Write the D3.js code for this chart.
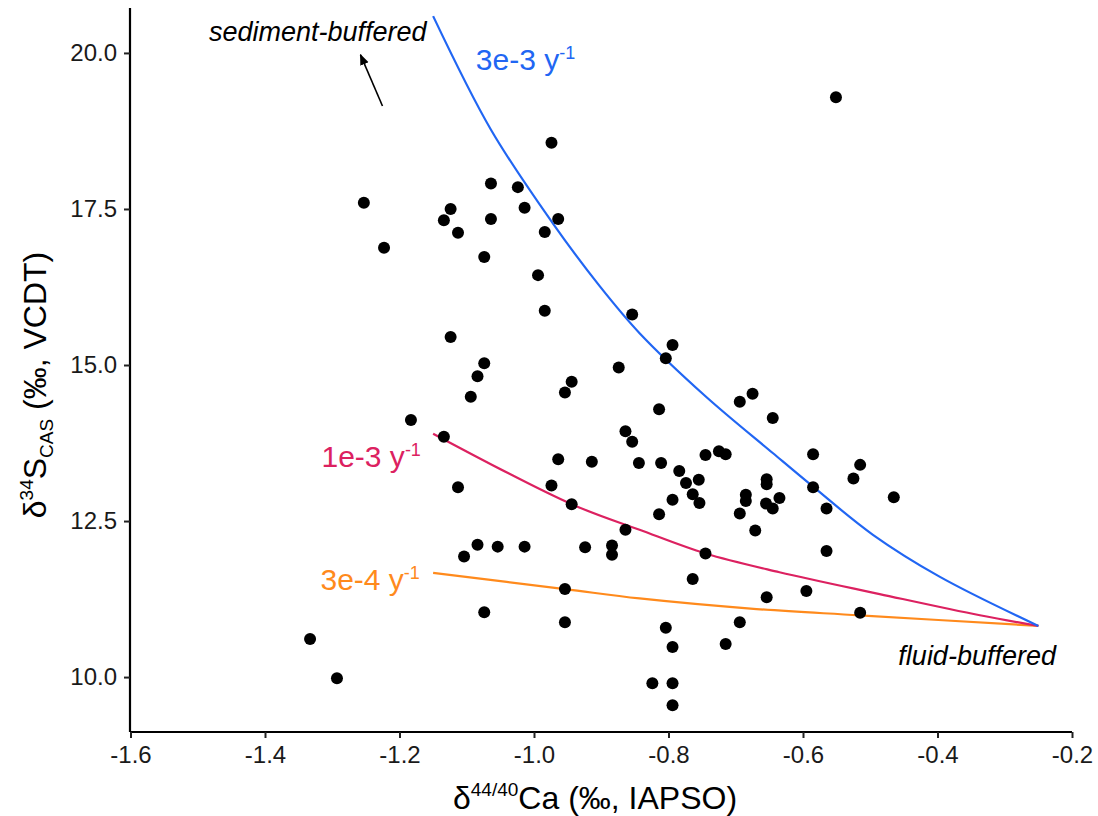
<!DOCTYPE html>
<html>
<head>
<meta charset="utf-8">
<script src="https://cdn.jsdelivr.net/npm/d3@7"></script>
<style>
  body { margin: 0; background: #fff; }
  svg { display: block; }
  text { font-family: "Liberation Sans", Arial, Helvetica, sans-serif; }
</style>
</head>
<body>
<svg id="chart" width="1098" height="816"></svg>
<script>
// Carbonate-associated sulfate δ34S against calcium δ44/40Ca, one entry per sample
const sampleCa = [
  -0.974, -1.064, -1.024, -1.253, -1.124, -1.014, -1.134, -1.064, -0.964, -1.113,
  -0.984, -1.223, -1.074, -0.994, -0.984, -1.124, -1.074, -1.084, -0.944, -0.954,
  -1.094, -1.183, -1.134, -0.964, -0.914, -1.113, -0.974, -0.944, -1.084, -1.054,
  -1.014, -0.924, -1.104, -0.954, -1.074, -0.954, -1.333, -1.293, -0.854, -0.794,
  -0.804, -0.874, -0.675, -0.694, -0.814, -0.645, -0.864, -0.854, -0.725, -0.715,
  -0.745, -0.585, -0.844, -0.811, -0.515, -0.784, -0.755, -0.774, -0.654, -0.654,
  -0.525, -0.585, -0.764, -0.685, -0.685, -0.754, -0.635, -0.655, -0.645, -0.794,
  -0.565, -0.814, -0.694, -0.864, -0.671, -0.884, -0.884, -0.745, -0.565, -0.764,
  -0.654, -0.595, -0.515, -0.804, -0.694, -0.794, -0.715, -0.824, -0.794, -0.794,
  -0.465, -0.551
];
const sampleS = [
  18.56, 17.91, 17.85, 17.60, 17.50, 17.52, 17.32, 17.34, 17.34, 17.12,
  17.13, 16.88, 16.73, 16.44, 15.87, 15.45, 15.03, 14.82, 14.73, 14.56,
  14.49, 14.12, 13.85, 13.49, 13.45, 13.04, 13.07, 12.77, 12.12, 12.09,
  12.09, 12.08, 11.93, 11.41, 11.04, 10.88, 10.61, 9.98, 15.81, 15.32,
  15.11, 14.96, 14.54, 14.41, 14.29, 14.15, 13.94, 13.77, 13.62, 13.57,
  13.56, 13.57, 13.43, 13.43, 13.40, 13.30, 13.16, 13.11, 13.17, 13.09,
  13.18, 13.04, 12.93, 12.92, 12.82, 12.79, 12.87, 12.78, 12.70, 12.84,
  12.70, 12.61, 12.62, 12.36, 12.35, 12.11, 11.96, 11.98, 12.02, 11.57,
  11.28, 11.38, 11.03, 10.79, 10.88, 10.48, 10.53, 9.90, 9.90, 9.55,
  12.88, 19.29
];

// Model trajectories from the sediment end towards the fluid end, one per rate
const fastCa = [-1.15, -1.064, -0.972, -0.902, -0.843, -0.745, -0.645, -0.585, -0.496, -0.397, -0.25];
const fastS  = [20.59, 18.77, 17.27, 16.26, 15.51, 14.50, 13.59, 13.05, 12.28, 11.61, 10.82];
const midCa  = [-1.15, -0.944, -0.843, -0.745, -0.635, -0.486, -0.337, -0.25];
const midS   = [13.90, 12.77, 12.36, 11.98, 11.68, 11.33, 10.99, 10.82];
const slowCa = [-1.15, -0.954, -0.843, -0.669, -0.516, -0.25];
const slowS  = [11.67, 11.41, 11.26, 11.09, 10.99, 10.82];

const rateLabels = ["3e-3", "1e-3", "3e-4"];
const rateColors = ["#2166f3", "#dc2160", "#ff8a1c"];
// label anchor (left edge / baseline) for each rate, in data units
const rateLabelCa = [-1.0865, -1.316, -1.3175];
const rateLabelS  = [19.73, 13.37, 11.39];

const xTicks = [-1.6, -1.4, -1.2, -1.0, -0.8, -0.6, -0.4, -0.2];
const yTicks = [10.0, 12.5, 15.0, 17.5, 20.0];

const svg = d3.select("#chart");
const panel = { left: 130, right: 1072, top: 8, bottom: 732 };

const x = d3.scaleLinear().domain([-1.6, -0.2]).range([130.5, 1072]);
const y = d3.scaleLinear().domain([9.12, 20.72]).range([panel.bottom, panel.top]);

// model curves
const line = d3.line()
  .x(d => x(d[0]))
  .y(d => y(d[1]))
  .curve(d3.curveCatmullRom.alpha(0.5));

const curves = [
  d3.zip(fastCa, fastS),
  d3.zip(midCa, midS),
  d3.zip(slowCa, slowS)
];

// draw slow first so the faster trajectories sit on top where they meet
[2, 1, 0].forEach(i => {
  svg.append("path")
    .datum(curves[i])
    .attr("d", line)
    .attr("fill", "none")
    .attr("stroke", rateColors[i])
    .attr("stroke-width", 2.2);
});

// sample points
svg.append("g")
  .selectAll("circle")
  .data(d3.zip(sampleCa, sampleS))
  .join("circle")
  .attr("cx", d => x(d[0]))
  .attr("cy", d => y(d[1]))
  .attr("r", 6)
  .attr("fill", "#000");

// rate labels with y^-1 superscript
rateLabels.forEach((lab, i) => {
  const t = svg.append("text")
    .attr("x", x(rateLabelCa[i]))
    .attr("y", y(rateLabelS[i]))
    .attr("fill", rateColors[i])
    .attr("font-size", 30);
  t.append("tspan").text(lab + " y");
  t.append("tspan").attr("font-size", 18).attr("dy", -11).text("-1");
});

// end-member annotations
svg.append("text")
  .attr("x", x(-1.3215))
  .attr("y", y(20.19))
  .attr("text-anchor", "middle")
  .attr("font-style", "italic")
  .attr("font-size", 27)
  .attr("fill", "#000")
  .text("sediment-buffered");

svg.append("text")
  .attr("x", x(-0.341))
  .attr("y", y(10.19))
  .attr("text-anchor", "middle")
  .attr("font-style", "italic")
  .attr("font-size", 27)
  .attr("fill", "#000")
  .text("fluid-buffered");

// arrow pointing towards the sediment-buffered end
svg.append("defs").append("marker")
  .attr("id", "arrowhead")
  .attr("viewBox", "0 0 10 10")
  .attr("refX", 9)
  .attr("refY", 5)
  .attr("markerWidth", 7)
  .attr("markerHeight", 7)
  .attr("markerUnits", "strokeWidth")
  .attr("orient", "auto")
  .append("path")
  .attr("d", "M0,1 L10,5 L0,9 Z")
  .attr("fill", "#000");

svg.append("line")
  .attr("x1", x(-1.2253)).attr("y1", y(19.15))
  .attr("x2", x(-1.258)).attr("y2", y(19.97))
  .attr("stroke", "#000")
  .attr("stroke-width", 1.6)
  .attr("marker-end", "url(#arrowhead)");

// axes
const fmt = d => d.toFixed(1);

const xAxis = svg.append("g")
  .attr("transform", `translate(0,${panel.bottom})`)
  .call(d3.axisBottom(x).tickValues(xTicks).tickFormat(fmt).tickSize(6).tickSizeOuter(0).tickPadding(8));

const yAxis = svg.append("g")
  .attr("transform", `translate(${panel.left},0)`)
  .call(d3.axisLeft(y).tickValues(yTicks).tickFormat(fmt).tickSize(6).tickSizeOuter(0).tickPadding(7));

[xAxis, yAxis].forEach(g => {
  g.select(".domain").attr("stroke", "#000").attr("stroke-width", 2.2);
  g.selectAll(".tick line").attr("stroke", "#222").attr("stroke-width", 2);
  g.selectAll(".tick text")
    .attr("font-size", 24)
    .attr("fill", "#1a1a1a")
    .style("font-family", "\"Liberation Sans\", Arial, sans-serif");
});
xAxis.select(".domain").attr("d", `M${panel.left},0H${panel.right}`);
yAxis.select(".domain").attr("d", `M0,${panel.bottom}V${panel.top}`);

// axis titles
const xTitle = svg.append("text")
  .attr("x", 595)
  .attr("y", 809)
  .attr("text-anchor", "middle")
  .attr("font-size", 32)
  .attr("fill", "#000");
xTitle.append("tspan").text("δ");
xTitle.append("tspan").attr("font-size", 19).attr("dy", -13).text("44/40");
xTitle.append("tspan").attr("dy", 13).text("Ca (‰, IAPSO)");

const yTitle = svg.append("text")
  .attr("transform", "translate(46,385) rotate(-90)")
  .attr("text-anchor", "middle")
  .attr("font-size", 32)
  .attr("fill", "#000");
yTitle.append("tspan").text("δ");
yTitle.append("tspan").attr("font-size", 19).attr("dy", -13).text("34");
yTitle.append("tspan").attr("dy", 13).text("S");
yTitle.append("tspan").attr("font-size", 19).attr("dy", 7).text("CAS");
yTitle.append("tspan").attr("dy", -7).text(" (‰, VCDT)");
</script>
</body>
</html>
